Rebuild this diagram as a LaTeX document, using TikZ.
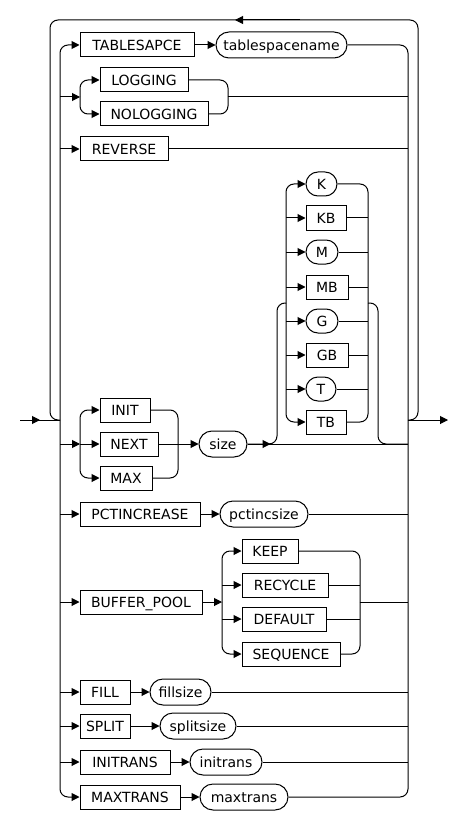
\documentclass[tikz,border=0pt]{standalone}
\usepackage{fontspec}
\setmainfont{DejaVu Sans}
\usetikzlibrary{arrows.meta}

\begin{document}
\begin{tikzpicture}[x=1pt, y=-1pt, line width=1pt,
    >={Triangle[length=8pt,width=8pt]},
    kw/.style={draw, rectangle, minimum height=24pt, inner sep=0pt,
        text height=11pt, text depth=0pt, font=\fontsize{14}{16}\selectfont},
    var/.style={kw, rounded corners=13pt, minimum height=26pt},
    unit/.style={kw, rounded corners=12pt},
    bahn/.style={rounded corners=8pt},
]
\useasboundingbox (0,0) rectangle (448,818);

% Schienen
\coordinate (ein) at (20,420);
\coordinate (li) at (60,420);
\coordinate (re) at (408,420);
\coordinate (aus) at (448,420);

% Knoten
\node[kw, minimum width=114pt] (tbs) at (137,45) {TABLESAPCE};
\node[var, minimum width=131pt] (tbsname) at (281.5,45) {tablespacename};
\node[kw, minimum width=88pt] (log) at (144,80) {LOGGING};
\node[kw, minimum width=108pt] (nolog) at (154,114) {NOLOGGING};
\node[kw, minimum width=88pt] (rev) at (124,149) {REVERSE};

\node[unit, minimum width=31pt] (uk) at (321.5,184) {K};
\node[kw, minimum width=40pt] (ukb) at (326,218) {KB};
\node[unit, minimum width=32pt] (um) at (322,252) {M};
\node[kw, minimum width=42pt] (umb) at (327,287) {MB};
\node[unit, minimum width=32pt] (ug) at (322,321) {G};
\node[kw, minimum width=42pt] (ugb) at (327,355) {GB};
\node[unit, minimum width=30pt] (ut) at (321,389) {T};
\node[kw, minimum width=40pt] (utb) at (326,422) {TB};

\node[kw, minimum width=50pt] (init) at (125,410) {INIT};
\node[kw, minimum width=58pt] (next) at (129,444) {NEXT};
\node[kw, minimum width=52pt] (max) at (126,478) {MAX};
\node[var, minimum width=48pt] (size) at (223,444) {size};

\node[kw, minimum width=120pt] (pcti) at (140,514) {PCTINCREASE};
\node[var, minimum width=88pt] (pctsize) at (264,514) {pctincsize};

\node[kw, minimum width=122pt] (bp) at (141,602) {BUFFER\_POOL};
\node[kw, minimum width=56pt] (keep) at (270,551) {KEEP};
\node[kw, minimum width=86pt] (recy) at (285,585) {RECYCLE};
\node[kw, minimum width=84pt] (dflt) at (284,619) {DEFAULT};
\node[kw, minimum width=98pt] (seq) at (291,654) {SEQUENCE};

\node[kw, minimum width=50pt] (fill) at (105,692) {FILL};
\node[var, minimum width=61pt] (fillsize) at (180.5,692) {fillsize};
\node[kw, minimum width=50pt] (split) at (105,726) {SPLIT};
\node[var, minimum width=76pt] (splitsize) at (198,726) {splitsize};
\node[kw, minimum width=90pt] (itr) at (125,762) {INITRANS};
\node[var, minimum width=72pt] (itrv) at (226,762) {initrans};
\node[kw, minimum width=100pt] (mtr) at (130,797) {MAXTRANS};
\node[var, minimum width=88pt] (mtrv) at (244,797) {maxtrans};

% Ein- und Ausgang, Schleife
\draw (ein) -- (li);
\draw[->] (ein) -- ++(20,0);
\draw[->] (re) -- (aus);
\draw[bahn] (re) -| (418,20) -| (50,420) -- (li);
\draw[->] (300,20) -- (235,20);

% linke und rechte Schiene
\draw[bahn,->] (li) |- (tbs.west);
\draw[bahn,->] (li) |- (mtr.west);
\draw[bahn] (tbsname.east) -| (re);
\draw[bahn] (mtrv.east) -| (re);

% TABLESAPCE
\draw[->] (tbs.east) -- (tbsname.west);

% LOGGING / NOLOGGING
\coordinate (lg) at (80,97);
\coordinate (lgr) at (228,97);
\draw[->] (li |- lg) -- (lg);
\draw[bahn,->] (lg) |- (log.west);
\draw[bahn,->] (lg) |- (nolog.west);
\draw[bahn] (log.east) -| (lgr);
\draw[bahn] (nolog.east) -| (lgr);
\draw (lgr) -- (re |- lgr);

% REVERSE
\draw[->] (li |- rev.west) -- (rev.west);
\draw (rev.east) -- (re |- rev.east);

% INIT / NEXT / MAX
\coordinate (ig) at (80,444);
\coordinate (igr) at (178,444);
\draw[->] (li |- ig) -- (ig);
\draw[bahn,->] (ig) |- (init.west);
\draw[->] (ig) -- (next.west);
\draw[bahn,->] (ig) |- (max.west);
\draw[bahn] (init.east) -| (igr);
\draw (next.east) -- (igr);
\draw[bahn] (max.east) -| (igr);
\draw[->] (igr) -- (size.west);
\draw (size.east) -- (re |- size.east);
\draw[->] (size.east) -- ++(23,0);

% Einheiten
\coordinate (ul) at (286,303);
\coordinate (ur) at (368,303);
\draw[bahn] (size.east) -| (277,303) -- (ul);
\draw[bahn] (ur) -- (378,303) |- (re |- size.east);
\draw[bahn,->] (ul) |- (uk.west);
\draw[bahn,->] (ul) |- (utb.west);
\draw[bahn] (uk.east) -| (ur);
\draw[bahn] (utb.east) -| (ur);
\foreach \u in {ukb,um,umb,ug,ugb,ut} {
    \draw[->] (ul |- \u.west) -- (\u.west);
    \draw (\u.east) -- (ur |- \u.east);
}

% PCTINCREASE
\draw[->] (li |- pcti.west) -- (pcti.west);
\draw[->] (pcti.east) -- (pctsize.west);
\draw (pctsize.east) -- (re |- pctsize.east);

% BUFFER_POOL
\coordinate (bl) at (222,602);
\coordinate (br) at (360,602);
\draw[->] (li |- bp.west) -- (bp.west);
\draw[->] (bp.east) -- (bl);
\draw[bahn,->] (bl) |- (keep.west);
\draw[bahn,->] (bl) |- (seq.west);
\draw[bahn] (keep.east) -| (br);
\draw[bahn] (seq.east) -| (br);
\foreach \b in {recy,dflt} {
    \draw[->] (bl |- \b.west) -- (\b.west);
    \draw (\b.east) -- (br |- \b.east);
}
\draw (br) -- (re |- br);

% FILL, SPLIT, INITRANS, MAXTRANS
\foreach \k/\v in {fill/fillsize,split/splitsize,itr/itrv} {
    \draw[->] (li |- \k.west) -- (\k.west);
    \draw[->] (\k.east) -- (\v.west);
    \draw (\v.east) -- (re |- \v.east);
}
\draw[->] (mtr.east) -- (mtrv.west);

\end{tikzpicture}
\end{document}
